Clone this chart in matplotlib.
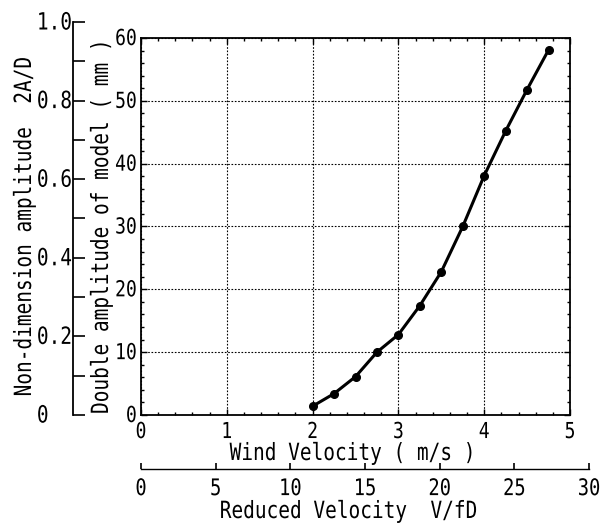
import matplotlib
matplotlib.use('Agg')
import matplotlib.pyplot as plt
from matplotlib.ticker import MultipleLocator, FixedLocator, FixedFormatter
from matplotlib import patheffects
from matplotlib.transforms import Affine2D
from matplotlib.text import Text

# ---- data ----
wind_velocity = [2.0, 2.25, 2.5, 2.75, 3.0, 3.25, 3.5, 3.75, 4.0, 4.25, 4.5, 4.75]
double_amplitude_mm = [1.4, 3.4, 6.1, 10.0, 12.8, 17.4, 22.8, 30.0, 38.1, 45.2, 51.8, 58.1]

wind_ticks = [0, 1, 2, 3, 4, 5]
mm_ticks = [0, 10, 20, 30, 40, 50, 60]
nd_ticks = [0, 0.2, 0.4, 0.6, 0.8, 1.0]
nd_labels = ['0', '0.2', '0.4', '0.6', '0.8', '1.0']
reduced_ticks = [0, 5, 10, 15, 20, 25, 30]

xlabel_wind = 'Wind Velocity ( m/s )'
xlabel_reduced = 'Reduced Velocity  V/fD'
ylabel_mm = 'Double amplitude of model ( mm )'
ylabel_nd = 'Non-dimension amplitude  2A/D'

FONT = 'DejaVu Sans Mono'
TICK_FS = 13
LABEL_FS = 14
plt.rcParams['font.family'] = FONT

W, H = 604, 525
fig = plt.figure(figsize=(W / 100, H / 100), dpi=100)


def rect(l, t, r, b):
    return [l / W, 1 - b / H, (r - l) / W, (b - t) / H]


# ---- main axes ----
ax = fig.add_axes(rect(141, 38, 570, 415))
ax.plot(wind_velocity, double_amplitude_mm, color='black', lw=2.2,
        marker='o', markersize=5.5, zorder=3)
ax.set_xlim(0, 5)
ax.set_ylim(0, 60)
ax.xaxis.set_major_locator(FixedLocator(wind_ticks))
ax.xaxis.set_minor_locator(MultipleLocator(0.2))
ax.yaxis.set_major_locator(FixedLocator(mm_ticks))
ax.yaxis.set_minor_locator(MultipleLocator(2))
ax.tick_params(which='both', direction='in', top=True, right=True,
               width=1.0, color='black', labelsize=TICK_FS)
ax.tick_params(which='major', length=4.5)
ax.tick_params(which='minor', length=2.5)
ax.tick_params(axis='x', which='major', pad=6.5)
ax.tick_params(axis='y', which='major', pad=3)
ax.grid(True, which='major', color='black', lw=0.8, linestyle=(0, (1.5, 1.5)))
for s in ax.spines.values():
    s.set_linewidth(1.3)

ax.set_xlabel(xlabel_wind, fontsize=LABEL_FS)
ax.xaxis.set_label_coords((353 - 141) / 429, (415 - 460) / 377)
ax.xaxis.label.set_va('baseline')
ax.set_ylabel(ylabel_mm, fontsize=LABEL_FS)
ax.yaxis.set_label_coords((108 - 141) / 429, (415 - 226) / 377)
ax.yaxis.label.set_rotation_mode('anchor')
ax.yaxis.label.set_va('baseline')
ax.yaxis.label.set_ha('center')

# ---- outer non-dimensional axis ----
ax2 = fig.add_axes(rect(73, 22, 74, 415))
ax2.set_ylim(0, 1.0)
ax2.patch.set_visible(False)
for k in ['top', 'right', 'bottom']:
    ax2.spines[k].set_visible(False)
ax2.spines['left'].set_linewidth(1.3)
ax2.set_xticks([])
ax2.yaxis.set_major_locator(FixedLocator(nd_ticks))
ax2.yaxis.set_major_formatter(FixedFormatter(nd_labels))
ax2.yaxis.set_minor_locator(MultipleLocator(0.1))
ax2.tick_params(axis='y', which='both', direction='in', length=8.5, width=1.2,
                labelsize=LABEL_FS, pad=26)
ax2.set_ylabel(ylabel_nd, fontsize=LABEL_FS)
ax2.yaxis.set_label_coords(-(73 - 31) / 1.0, (415 - 226) / 393)
ax2.yaxis.label.set_rotation_mode('anchor')
ax2.yaxis.label.set_va('baseline')
ax2.yaxis.label.set_ha('center')

# ---- second bottom axis: reduced velocity ----
ax3 = fig.add_axes(rect(141, 468, 589, 469))
ax3.set_xlim(0, 30)
ax3.patch.set_visible(False)
for k in ['top', 'right', 'left']:
    ax3.spines[k].set_visible(False)
ax3.spines['bottom'].set_linewidth(1.0)
ax3.set_yticks([])
ax3.xaxis.set_major_locator(FixedLocator(reduced_ticks))
ax3.tick_params(axis='x', direction='in', length=4.5, width=1.2,
                labelsize=13.5, pad=8)
ax3.set_xlabel(xlabel_reduced, fontsize=LABEL_FS)
ax3.xaxis.set_label_coords((349 - 141) / 448, -(518 - 469) / 1.0)
ax3.xaxis.label.set_va('baseline')


# ---- tall, narrow glyph look (vertical stretch about baseline) ----
class VStretch(patheffects.AbstractPathEffect):
    def __init__(self, k):
        super().__init__()
        self.k = k

    def draw_path(self, renderer, gc, tpath, affine, rgbFace=None):
        renderer.draw_path(gc, tpath, Affine2D().scale(1, self.k) + affine, rgbFace)


fig.canvas.draw()
for lbl in ax2.get_yticklabels():
    lbl.set_ha('left')
for t in fig.findobj(Text):
    if t.get_text():
        t.set_path_effects([VStretch(1.22)])

fig.savefig('out.png', dpi=100)
